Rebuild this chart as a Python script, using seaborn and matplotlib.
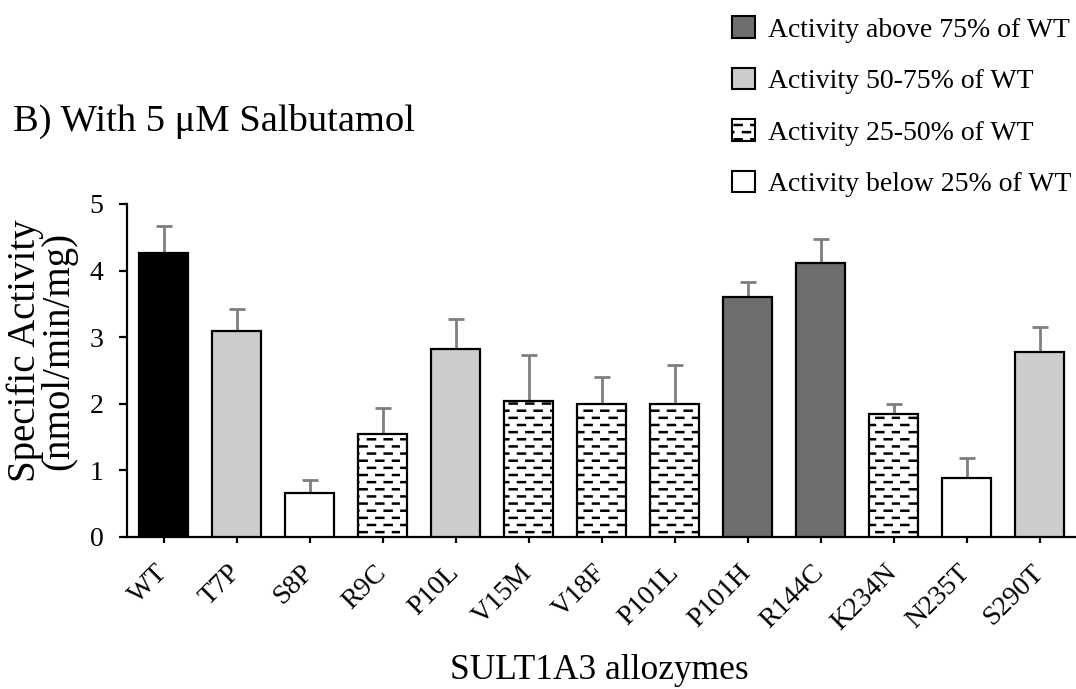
import numpy as np
import pandas as pd
import seaborn as sns
import matplotlib
matplotlib.use("Agg")
import matplotlib.pyplot as plt
from matplotlib import hatch as mhatch
from matplotlib.patches import Patch
from matplotlib.path import Path


# data
allozymes = ["WT", "T7P", "S8P", "R9C", "P10L", "V15M", "V18F",
             "P101L", "P101H", "R144C", "K234N", "N235T", "S290T"]
activity = [4.27, 3.09, 0.66, 1.54, 2.83, 2.04, 2.00,
            2.00, 3.60, 4.12, 1.85, 0.89, 2.78]
sd = [0.40, 0.33, 0.19, 0.40, 0.44, 0.70, 0.40,
      0.58, 0.23, 0.36, 0.14, 0.30, 0.37]
group = ["wt", "50-75", "<25", "25-50", "50-75", "25-50", "25-50",
         "25-50", ">75", ">75", "25-50", "<25", "50-75"]

legend_labels = ["Activity above 75% of WT", "Activity 50-75% of WT",
                 "Activity 25-50% of WT", "Activity below 25% of WT"]
legend_groups = [">75", "50-75", "25-50", "<25"]

group_color = {"wt": "black", ">75": "#6e6e6e", "50-75": "#cccccc",
               "25-50": "white", "<25": "white"}


# staggered short dashes, used in place of the plain '-' hatch
class StaggerDash(mhatch.HatchPatternBase):
    def __init__(self, hatch, density):
        self.rows = 14 if "-" in hatch else 0
        self.cols = 6
        self.num_vertices = self.rows * self.cols * 2

    def set_vertices_and_codes(self, vertices, codes):
        k = 0
        for r in range(self.rows):
            y = (r + 0.5) / self.rows
            off = 0.5 if r % 2 else 0.0
            for c in range(self.cols):
                x0 = (c + off + 0.08) / self.cols
                x1 = x0 + 0.42 / self.cols
                vertices[k] = (x0, y)
                vertices[k + 1] = (x1, y)
                codes[k] = Path.MOVETO
                codes[k + 1] = Path.LINETO
                k += 2


mhatch._hatch_types[0] = StaggerDash

sns.set_style("ticks")
plt.rcParams["font.family"] = ["Liberation Serif", "DejaVu Serif"]
plt.rcParams["hatch.linewidth"] = 1.8
plt.rcParams["hatch.color"] = "black"
for k in ["text.color", "axes.labelcolor", "xtick.color", "ytick.color",
          "axes.edgecolor"]:
    plt.rcParams[k] = "black"

df = pd.DataFrame({"allozyme": allozymes, "activity": activity,
                   "sd": sd, "group": group})

fig = plt.figure(figsize=(10.76, 6.89), dpi=100)
ax = fig.add_axes([127 / 1076, 152 / 689, 949 / 1076, 333 / 689])

sns.barplot(data=df, x="allozyme", y="activity", hue="allozyme",
            palette=[group_color[g] for g in group], dodge=False,
            legend=False, width=0.68, edgecolor="black", linewidth=1.6,
            ax=ax, zorder=3)

for bar, g in zip(ax.patches, group):
    if g == "25-50":
        bar.set_hatch("-")

ax.errorbar(df["allozyme"], df["activity"],
            yerr=[np.zeros(len(sd)), df["sd"]], fmt="none",
            ecolor="#7f7f7f", elinewidth=2, capsize=6, capthick=2, zorder=2)

ax.set_xlim(-0.5, 12.5)
ax.set_ylim(0, 5)
ax.set_yticks(range(6))
sns.despine(ax=ax)
for s in ["left", "bottom"]:
    ax.spines[s].set_linewidth(1.6)
ax.tick_params(axis="y", length=6, width=1.6, labelsize=20, pad=11)
ax.tick_params(axis="x", length=4, width=1.6, labelsize=20, pad=19)
plt.setp(ax.get_xticklabels(), rotation=45, ha="right", va="center",
         rotation_mode="anchor")

ax.set_xlabel("SULT1A3 allozymes", fontsize=25.5)
ax.xaxis.set_label_coords(0.498, -0.35)
ax.set_ylabel("Specific Activity\n(nmol/min/mg)", fontsize=28,
              linespacing=0.88)
ax.yaxis.set_label_coords(-0.09, 0.56)
ax.yaxis.label.set_va("center")

fig.text(13 / 1076, 1 - 121 / 689, "B) With 5 \u03bcM Salbutamol",
         fontsize=27.7, va="center", ha="left")

handles = []
for g in legend_groups:
    h = Patch(facecolor=group_color[g], edgecolor="black", linewidth=1.5)
    if g == "25-50":
        h.set_hatch("-")
    handles.append(h)
fig.legend(handles, legend_labels, loc="upper left",
           bbox_to_anchor=(721 / 1076, 1 - 5 / 689), frameon=False,
           fontsize=20, handlelength=0.83, handleheight=0.83,
           handletextpad=0.47, labelspacing=0.9, borderaxespad=0)

fig.savefig("out.png", dpi=100)
